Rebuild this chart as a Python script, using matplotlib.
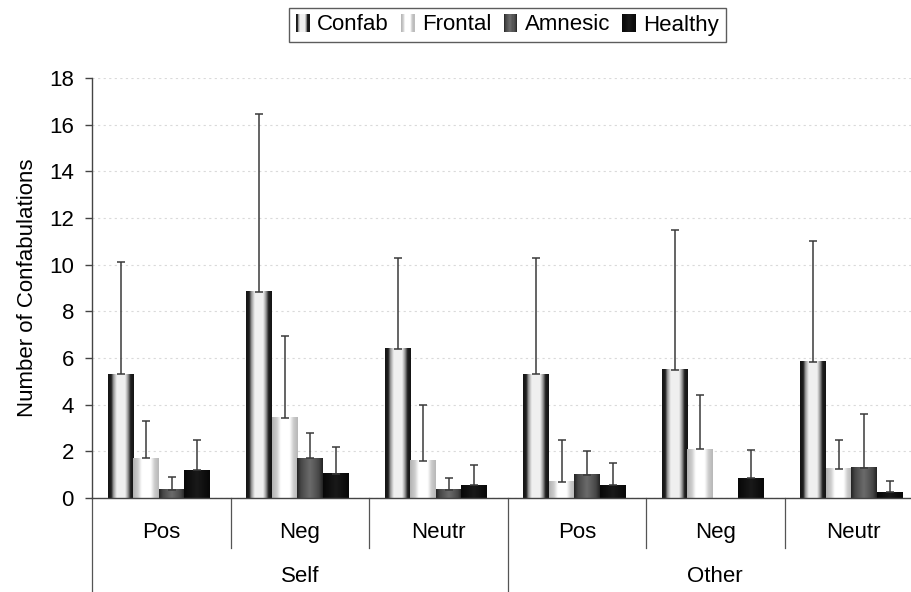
import numpy as np
import matplotlib
matplotlib.use("Agg")
import matplotlib.pyplot as plt
from matplotlib.colors import LinearSegmentedColormap
from matplotlib.patches import Rectangle
from matplotlib.legend_handler import HandlerBase

plt.rcParams['font.family'] = ['Liberation Sans', 'DejaVu Sans']

# data: mean number of confabulations and SD per condition
conditions = ['Pos', 'Neg', 'Neutr', 'Pos', 'Neg', 'Neutr']
referents = ['Self', 'Other']
groups = ['Confab', 'Frontal', 'Amnesic', 'Healthy']

confab = [5.3, 8.85, 6.4, 5.3, 5.5, 5.85]
confab_sd = [4.8, 7.6, 3.9, 5.0, 6.0, 5.15]
frontal = [1.7, 3.45, 1.6, 0.7, 2.1, 1.25]
frontal_sd = [1.6, 3.5, 2.4, 1.8, 2.3, 1.25]
amnesic = [0.35, 1.7, 0.35, 1.0, np.nan, 1.3]
amnesic_sd = [0.55, 1.1, 0.5, 1.0, np.nan, 2.3]
healthy = [1.2, 1.05, 0.55, 0.55, 0.85, 0.25]
healthy_sd = [1.3, 1.15, 0.85, 0.95, 1.2, 0.5]

means = [confab, frontal, amnesic, healthy]
sds = [confab_sd, frontal_sd, amnesic_sd, healthy_sd]

FS = 16


def shade(stops):
    return LinearSegmentedColormap.from_list('', [(p, (g, g, g)) for p, g in stops])


# excel-like cylinder shading for each group
cmaps = [
    shade([(0, .08), (.12, .12), (.2, .58), (.34, .94), (.66, .94), (.78, .58), (.88, .12), (1, .08)]),
    shade([(0, .70), (.18, .80), (.34, 1.0), (.68, 1.0), (.84, .80), (1, .72)]),
    shade([(0, .14), (.15, .28), (.5, .42), (.85, .28), (1, .14)]),
    shade([(0, .03), (.5, .10), (1, .03)]),
]

fig = plt.figure(figsize=(9.12, 5.92), dpi=100)
ax = fig.add_axes([92 / 912, 94 / 592, 820 / 912, 420 / 592])

x = np.arange(len(conditions))
width = 0.184
grad = np.linspace(0, 1, 64).reshape(1, -1)

for k in range(4):
    m = np.array(means[k])
    s = np.array(sds[k])
    pos = x - 0.2925 + k * width
    ok = ~np.isnan(m)
    bars = ax.bar(pos[ok], m[ok], width=width, color='none', edgecolor='none')
    for b in bars:
        x0, y0, w, h = b.get_x(), b.get_y(), b.get_width(), b.get_height()
        ax.imshow(grad, extent=[x0, x0 + w, y0, y0 + h], cmap=cmaps[k],
                  aspect='auto', interpolation='bilinear', zorder=2)
    ax.errorbar(pos[ok], m[ok], yerr=[np.zeros(ok.sum()), s[ok]], fmt='none',
                ecolor='#3a3a3a', elinewidth=1.1, capsize=3, capthick=1.1, zorder=3)

ax.set_xlim(-0.5, -0.5 + 820 / 138.5)
ax.set_ylim(0, 18)
ax.set_yticks(range(0, 19, 2))
ax.set_xticks([])
ax.yaxis.grid(True, color='#dadada', linestyle=(0, (2, 3)), linewidth=0.8)
ax.set_axisbelow(True)
for side in ['top', 'right']:
    ax.spines[side].set_visible(False)
for side in ['left', 'bottom']:
    ax.spines[side].set_color('#444444')
    ax.spines[side].set_linewidth(1.0)
ax.tick_params(axis='y', length=5, width=1, color='#444444', labelsize=FS, pad=8)
ax.set_ylabel('Number of Confabulations', fontsize=FS, labelpad=8)

# two-level category axis
trans = ax.get_xaxis_transform()
for i, c in enumerate(conditions):
    ax.text(i, -0.083, c, transform=trans, ha='center', va='center', fontsize=FS)
for j, r in enumerate(referents):
    ax.text(1 + 3 * j, -0.188, r, transform=trans, ha='center', va='center', fontsize=FS)
for sep in [0.5, 1.5, 3.5, 4.5]:
    ax.plot([sep, sep], [0, -0.119], transform=trans, color='#555555', lw=0.9, clip_on=False)
for sep in [-0.5, 2.5]:
    ax.plot([sep, sep], [0, -0.23], transform=trans, color='#555555', lw=0.9, clip_on=False)


class GradientHandler(HandlerBase):
    def __init__(self, cmap):
        super().__init__()
        self.cmap = cmap

    def create_artists(self, legend, orig_handle, xdescent, ydescent, width, height, fontsize, trans):
        n = 12
        strips = []
        for i in range(n):
            strips.append(Rectangle((-xdescent + i * width / n, -ydescent - 1), width / n + 0.3, height + 2,
                                    facecolor=self.cmap((i + 0.5) / n), edgecolor='none', transform=trans))
        return strips


handles = [Rectangle((0, 0), 1, 1) for _ in groups]
leg = fig.legend(handles, groups, loc='center', bbox_to_anchor=(507.5 / 912, 1 - 25 / 592),
                 ncol=4, fontsize=FS, frameon=True, fancybox=False,
                 handlelength=0.6, handleheight=0.7, handletextpad=0.35, columnspacing=0.55,
                 borderpad=0.3, handler_map={h: GradientHandler(cm) for h, cm in zip(handles, cmaps)})
leg.get_frame().set_edgecolor('#333333')
leg.get_frame().set_linewidth(1.0)

fig.savefig('out.png', dpi=100)
